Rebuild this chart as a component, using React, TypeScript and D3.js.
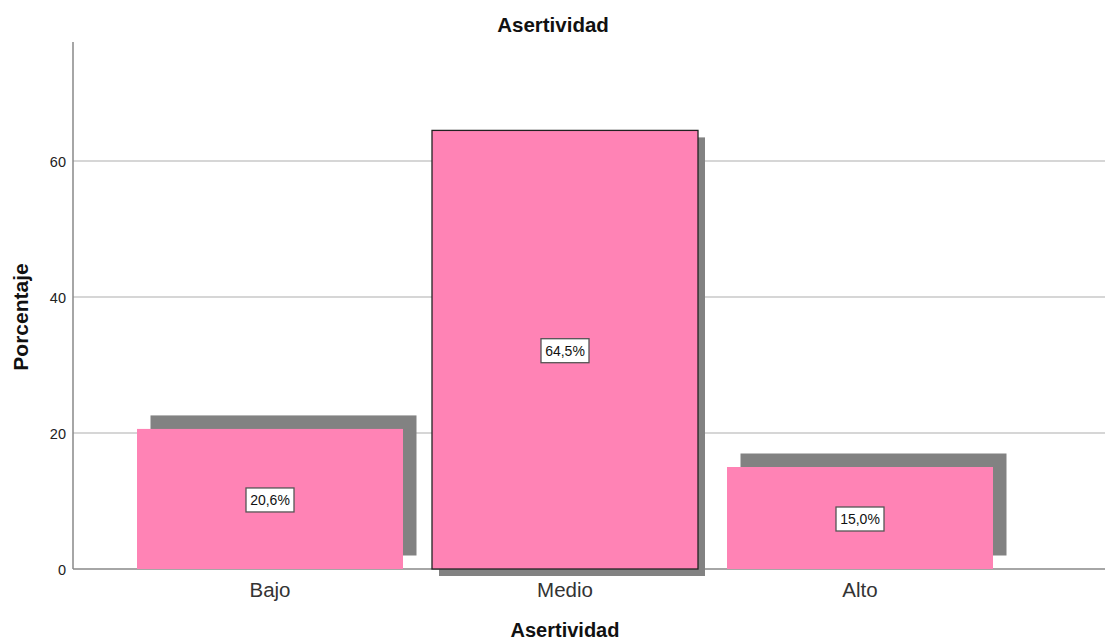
import React from "react";
import * as d3 from "d3";

const categories = ["Bajo", "Medio", "Alto"];
const percentages = [20.6, 64.5, 15.0];
const valueLabels = ["20,6%", "64,5%", "15,0%"];
const yTicks = [0, 20, 40, 60];
const highlighted = ["Medio"];

const W = 1105;
const H = 642;
const FONT = "'Liberation Sans', Arial, sans-serif";

export default function App() {
  const x0 = 73;
  const xEnd = 1105;
  const yBase = 569;
  const yTop = 42;

  const y = d3.scaleLinear().domain([0, 60]).range([yBase, 161]);
  const x = d3
    .scaleBand<string>()
    .domain(categories)
    .range([122.5, 1007.5])
    .paddingInner(29 / 295)
    .paddingOuter(29 / 295 / 2);
  const bw = x.bandwidth();

  return (
    <svg
      width={W}
      height={H}
      style={{ position: "absolute", left: 0, top: 0, background: "#fff" }}
      fontFamily={FONT}
    >
      {/* grid lines */}
      {yTicks
        .filter((t) => t > 0)
        .map((t) => (
          <line key={"g" + t} x1={x0} x2={xEnd} y1={y(t)} y2={y(t)} stroke="#c8c8c8" strokeWidth={1.3} />
        ))}
      {/* x axis line */}
      <line x1={x0} x2={xEnd} y1={yBase} y2={yBase} stroke="#888" strokeWidth={1.5} />

      {/* shadows */}
      {categories.map((c, i) => {
        const hi = highlighted.includes(c);
        const dx = hi ? 7 : 13.5;
        const dy = hi ? 7 : -13.5;
        const xl = (x(c) as number) + dx;
        const top = y(percentages[i]) + dy;
        return <rect key={"s" + c} x={xl} y={top} width={bw} height={yBase - y(percentages[i])} fill="#828282" />;
      })}

      {/* bars */}
      {categories.map((c, i) => {
        const hi = highlighted.includes(c);
        const xl = x(c) as number;
        const top = y(percentages[i]);
        return (
          <rect
            key={"b" + c}
            x={xl}
            y={top}
            width={bw}
            height={yBase - top}
            fill="#ff83b5"
            stroke={hi ? "#222" : "none"}
            strokeWidth={hi ? 1.3 : 0}
          />
        );
      })}

      {/* value labels */}
      {categories.map((c, i) => {
        const cx = (x(c) as number) + bw / 2;
        const cy = y(percentages[i] / 2) + 1;
        const w = 48;
        const h = 24;
        return (
          <g key={"l" + c}>
            <rect x={cx - w / 2} y={cy - h / 2} width={w} height={h} fill="#fff" stroke="#555" strokeWidth={1.3} />
            <text x={cx} y={cy + 5} textAnchor="middle" fontSize={14} fill="#111">
              {valueLabels[i]}
            </text>
          </g>
        );
      })}

      {/* y axis */}
      <line x1={x0} x2={x0} y1={yTop} y2={yBase} stroke="#888" strokeWidth={1.5} />
      {yTicks.map((t) => (
        <text key={"t" + t} x={66} y={y(t) + 6} textAnchor="end" fontSize={14.5} fill="#222">
          {t}
        </text>
      ))}

      {/* category labels */}
      {categories.map((c) => (
        <text
          key={"c" + c}
          x={(x(c) as number) + bw / 2}
          y={597}
          textAnchor="middle"
          fontSize={20.5}
          fill="#333"
        >
          {c}
        </text>
      ))}

      {/* titles */}
      <text x={553} y={32} textAnchor="middle" fontSize={20.5} fontWeight="bold" fill="#111">
        Asertividad
      </text>
      <text x={565} y={637} textAnchor="middle" fontSize={20} fontWeight="bold" fill="#111">
        Asertividad
      </text>
      <text
        transform={`translate(28, 317) rotate(-90)`}
        textAnchor="middle"
        fontSize={21}
        fontWeight="bold"
        fill="#111"
      >
        Porcentaje
      </text>
    </svg>
  );
}
